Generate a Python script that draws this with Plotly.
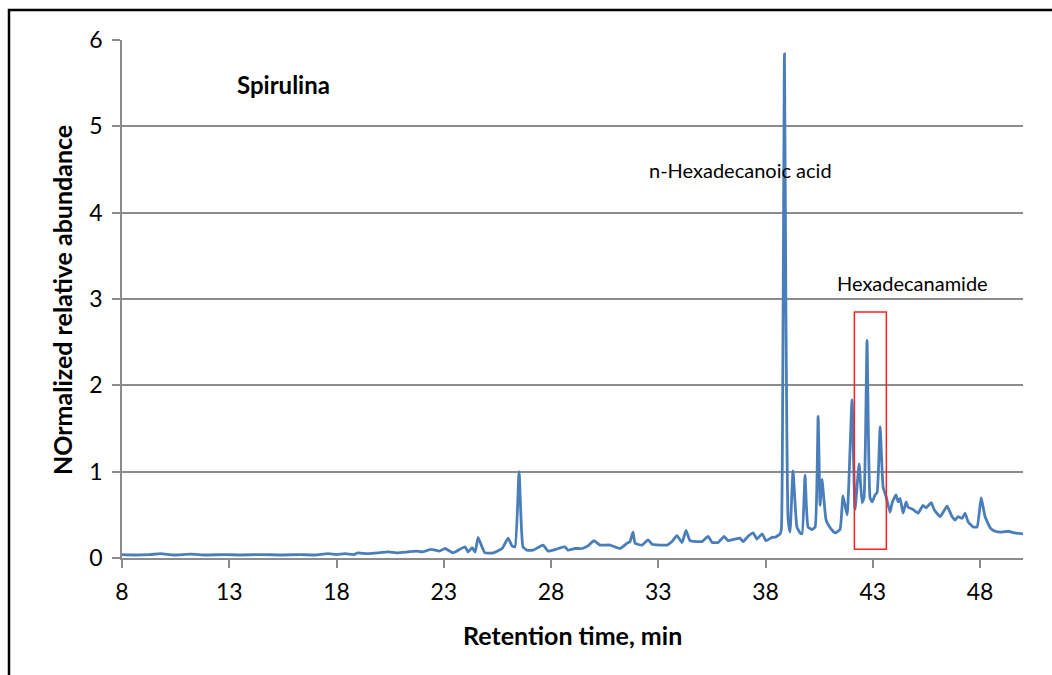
import plotly.graph_objects as go

# Chromatogram trace: retention time (min) vs normalized relative abundance
retention_time = [
    8.0, 8.6, 9.3, 9.8, 10.4, 11.2, 11.9, 12.8, 13.5, 14.5, 15.4, 16.3, 17.0,
    17.6, 18.0, 18.4, 18.8, 19.0, 19.4, 19.9, 20.4, 20.8, 21.3, 21.7, 22.0,
    22.4, 22.8, 23.06, 23.43, 23.99, 24.13, 24.32, 24.46, 24.60, 24.78, 24.92,
    25.30, 25.72, 26.00, 26.18, 26.32, 26.51, 26.69, 26.88, 27.16, 27.63,
    27.86, 28.33, 28.65, 28.79, 29.12, 29.45, 29.72, 30.00, 30.28, 30.75,
    31.22, 31.54, 31.68, 31.82, 31.92, 32.24, 32.52, 32.71, 33.08, 33.41,
    33.64, 33.87, 34.11, 34.29, 34.48, 34.81, 35.04, 35.32, 35.51, 35.79,
    36.07, 36.25, 36.58, 36.81, 36.95, 37.18, 37.42, 37.60, 37.84, 38.02,
    38.30, 38.44, 38.68, 38.74, 38.81, 38.88, 38.95, 39.05, 39.14, 39.28,
    39.46, 39.61, 39.70, 39.84, 39.98, 40.17, 40.31, 40.45, 40.54, 40.63,
    40.82, 41.01, 41.24, 41.47, 41.61, 41.80, 42.03, 42.17, 42.36, 42.50,
    42.59, 42.73, 42.87, 42.97, 43.10, 43.20, 43.34, 43.48, 43.62, 43.80,
    43.90, 44.08, 44.18, 44.27, 44.41, 44.55, 44.64, 44.88, 45.11, 45.34,
    45.48, 45.72, 45.86, 46.14, 46.46, 46.69, 46.83, 46.97, 47.16, 47.30,
    47.44, 47.67, 47.86, 48.05, 48.23, 48.47, 48.70, 49.03, 49.31, 49.63,
    50.0,
]
abundance = [
    0.04, 0.035, 0.04, 0.05, 0.035, 0.045, 0.035, 0.04, 0.035, 0.04, 0.035,
    0.04, 0.035, 0.05, 0.04, 0.05, 0.04, 0.06, 0.05, 0.06, 0.07, 0.06, 0.07,
    0.08, 0.07, 0.10, 0.08, 0.11, 0.06, 0.13, 0.07, 0.12, 0.07, 0.24, 0.13,
    0.06, 0.06, 0.11, 0.23, 0.14, 0.13, 1.00, 0.13, 0.09, 0.09, 0.15, 0.08,
    0.11, 0.13, 0.09, 0.11, 0.11, 0.14, 0.20, 0.15, 0.15, 0.11, 0.17, 0.19,
    0.30, 0.17, 0.15, 0.21, 0.16, 0.15, 0.15, 0.19, 0.26, 0.18, 0.32, 0.20,
    0.19, 0.19, 0.25, 0.18, 0.18, 0.25, 0.20, 0.22, 0.23, 0.19, 0.25, 0.29,
    0.22, 0.28, 0.20, 0.24, 0.24, 0.28, 0.35, 2.50, 5.84, 2.80, 0.45, 0.30,
    1.01, 0.36, 0.29, 0.28, 0.96, 0.36, 0.33, 0.36, 1.64, 0.61, 0.91, 0.44,
    0.35, 0.29, 0.33, 0.72, 0.50, 1.83, 0.56, 1.09, 0.64, 0.70, 2.52, 0.70,
    0.65, 0.73, 0.76, 1.52, 0.82, 0.71, 0.53, 0.64, 0.73, 0.65, 0.69, 0.52,
    0.65, 0.59, 0.56, 0.52, 0.61, 0.58, 0.64, 0.56, 0.48, 0.60, 0.48, 0.44,
    0.48, 0.46, 0.52, 0.42, 0.36, 0.36, 0.70, 0.48, 0.35, 0.31, 0.30, 0.31,
    0.29, 0.28,
]

x_ticks = [8, 13, 18, 23, 28, 33, 38, 43, 48]
y_ticks = [0, 1, 2, 3, 4, 5, 6]

# Highlighted Hexadecanamide window
box_time = [42.14, 43.63]
box_abundance = [0.10, 2.85]

FONT = "Lato"
GRID = "#8c8c8c"

fig = go.Figure()
fig.add_trace(go.Scatter(
    x=retention_time, y=abundance, mode="lines",
    line=dict(color="#4a7ebb", width=2.8, shape="spline", smoothing=0.4),
    showlegend=False, hoverinfo="x+y",
))

fig.update_layout(
    width=1052, height=675,
    margin=dict(l=122, r=29, t=40, b=117),
    paper_bgcolor="white", plot_bgcolor="white",
    font=dict(family=FONT, color="black"),
    xaxis=dict(
        range=[8, 50], tickvals=x_ticks, ticktext=[str(v) for v in x_ticks],
        showgrid=False, zeroline=False,
        showline=True, linecolor=GRID, linewidth=1.5,
        ticks="outside", ticklen=8, tickcolor=GRID, tickwidth=1.5,
        tickfont=dict(size=23, family=FONT), ticklabelstandoff=5,
    ),
    yaxis=dict(
        range=[0, 6], tickvals=y_ticks,
        showgrid=True, gridcolor=GRID, gridwidth=1.5, zeroline=False,
        showline=True, linecolor=GRID, linewidth=1.5,
        ticks="outside", ticklen=8, tickcolor=GRID, tickwidth=1.5,
        tickfont=dict(size=23, family=FONT), ticklabelstandoff=5,
    ),
    shapes=[
        # outer frame
        dict(type="rect", xref="paper", yref="paper",
             x0=(9 - 122) / 901, x1=1.2, y0=-0.4, y1=1 + 30 / 518,
             line=dict(color="black", width=2.5), fillcolor="rgba(0,0,0,0)",
             layer="below"),
        dict(type="rect", xref="x", yref="y",
             x0=box_time[0], x1=box_time[1],
             y0=box_abundance[0], y1=box_abundance[1],
             line=dict(color="#ff2020", width=1.5)),
    ],
    annotations=[
        dict(text="<b>Spirulina</b>", x=15.55, y=5.48, xref="x", yref="y",
             showarrow=False, font=dict(size=24, family=FONT)),
        dict(text="n-Hexadecanoic acid", x=36.81, y=4.49, xref="x", yref="y",
             showarrow=False, font=dict(size=20, family=FONT)),
        dict(text="Hexadecanamide", x=44.83, y=3.19, xref="x", yref="y",
             showarrow=False, font=dict(size=20, family=FONT)),
        dict(text="<b>Retention time, min</b>", x=0.5, y=-0.1486,
             xref="paper", yref="paper", xanchor="center", yanchor="middle",
             showarrow=False, font=dict(size=25, family=FONT)),
        dict(text="<b>NOrmalized relative abundance</b>", x=-0.0666, y=0.498,
             xref="paper", yref="paper", xanchor="center", yanchor="middle",
             showarrow=False, textangle=-90,
             font=dict(size=25, family=FONT)),
    ],
)

fig.write_html("out.html")
